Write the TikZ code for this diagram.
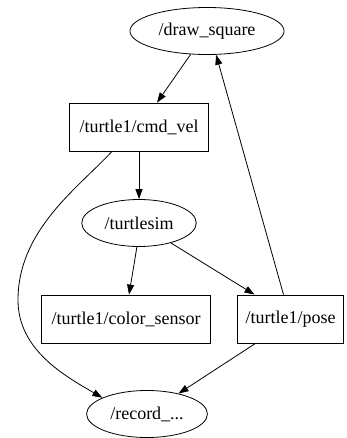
\documentclass[tikz,border=0pt]{standalone}
\usepackage{fontspec}
\setmainfont{Liberation Serif}
\usetikzlibrary{shapes.geometric,arrows.meta}

\begin{document}
\begin{tikzpicture}[x=1pt,y=1pt,
   every node/.style={draw,line width=0.8pt,font=\fontsize{18pt}{20pt}\selectfont},
   rosnode/.style={ellipse,inner xsep=6pt,minimum height=47pt},
   topic/.style={rectangle,inner xsep=10pt,minimum height=48pt},
   edge/.style={line width=0.8pt,-{Triangle[length=10pt,width=7pt]}}]
\useasboundingbox (0,0) rectangle (347,-438);
\node[rosnode] (ds) at (207,-31) {/draw\_square};
\node[topic] (cmd) at (139,-127) {/turtle1/cmd\_vel};
\node[rosnode] (ts) at (139,-223) {/turtlesim};
\node[topic] (cs) at (126,-319) {/turtle1/color\_sensor};
\node[topic,inner xsep=8pt] (pose) at (290.5,-319) {/turtle1/pose};
\node[rosnode] (rec) at (147,-414) {/record\_...};
\draw[edge] (ds.235) -- ([xshift=18pt]cmd.north);
\draw[edge] (cmd.south) -- (ts.north);
\draw[edge] ([xshift=-27pt]cmd.south) .. controls (78,-188) and (18,-230) .. (18,-300)
   .. controls (18,-350) and (65,-376) .. (rec.160);
\draw[edge] (ts.265) -- ([xshift=3pt]cs.north);
\draw[edge] (ts.328) -- ([xshift=-36pt]pose.north);
\draw[edge] ([xshift=-7pt]pose.north) -- (ds.291);
\draw[edge] ([xshift=-35pt]pose.south) -- (rec.33);
\end{tikzpicture}
\end{document}
